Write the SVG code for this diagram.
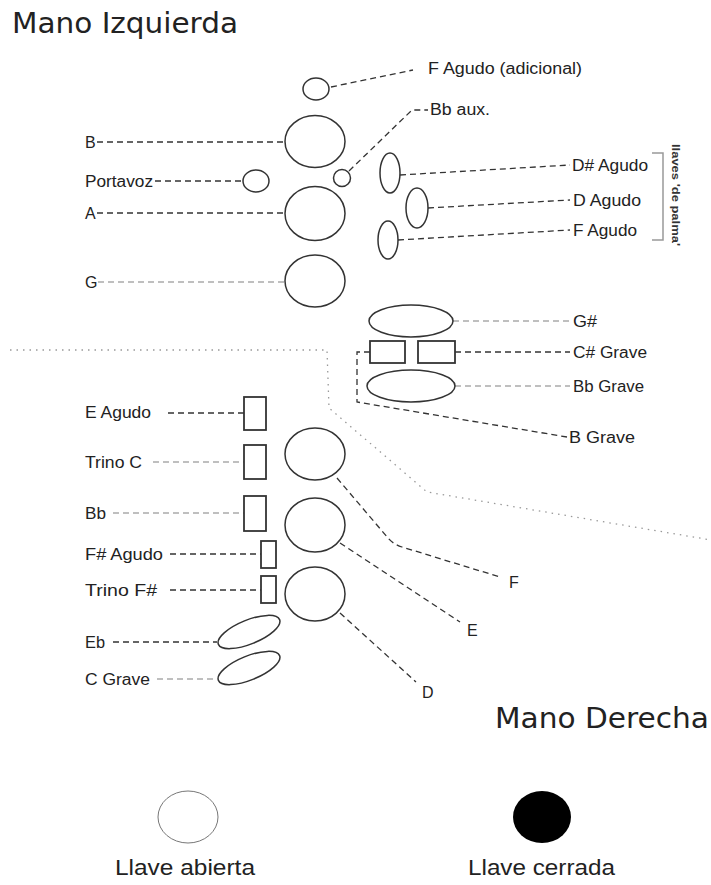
<svg xmlns="http://www.w3.org/2000/svg" width="711" height="885" viewBox="0 0 711 885">
<style>
.title{font-family:"DejaVu Sans",Verdana,sans-serif;font-size:28px;fill:#222}
.lbl{font-family:"Liberation Sans",Arial,sans-serif;font-size:16px;fill:#222}
.leg{font-family:"Liberation Sans",Arial,sans-serif;font-size:22px;fill:#222}
.key{fill:#fff;stroke:#333;stroke-width:1.5}
.rk{fill:#fff;stroke:#333;stroke-width:1.8}
.dl{fill:none;stroke:#333;stroke-width:1.3;stroke-dasharray:6 4}
.gl{fill:none;stroke:#aaa;stroke-width:1.5;stroke-dasharray:6 4}
.dot{fill:none;stroke:#999;stroke-width:1.3;stroke-dasharray:1.5 5}
</style>
<rect width="711" height="885" fill="#fff"/>
<text class="title" x="12" y="33" textLength="226" lengthAdjust="spacingAndGlyphs">Mano Izquierda</text>
<text class="title" x="495" y="728" textLength="214" lengthAdjust="spacingAndGlyphs">Mano Derecha</text>

<g id="connectors">
<path class="dot" d="M10,350 L327,350 L329,408 L427,492 L711,540"/>
<path class="dl" d="M331,87 L413,70"/>
<path class="dl" d="M97,142 L285,142"/>
<path class="dl" d="M349,171 L412,110 L428,110"/>
<path class="dl" d="M155,181 L243,181"/>
<path class="dl" d="M97,213 L285,213"/>
<path class="gl" d="M98,282 L285,282"/>
<path class="dl" d="M400,175 L570,165"/>
<path class="dl" d="M428,208 L570,200"/>
<path class="dl" d="M398,240 L570,230"/>
<path class="gl" d="M453,321 L570,321"/>
<path class="dl" d="M455,352 L570,352"/>
<path class="gl" d="M455,386 L570,386"/>
<path class="dl" d="M370,352 L357,352 L357,402 L567,437"/>
<path class="dl" d="M168,413 L244,413"/>
<path class="gl" d="M153,462 L244,462"/>
<path class="gl" d="M113,513 L244,513"/>
<path class="dl" d="M170,554 L261,554"/>
<path class="dl" d="M170,590 L261,590"/>
<path class="dl" d="M337,478 L388,538 Q393,544 402,547 L500,577"/>
<path class="dl" d="M340,543 L460,622"/>
<path class="dl" d="M340,613 L416,682"/>
<path class="dl" d="M113,642 L217,642"/>
<path class="gl" d="M157,679 L217,679"/>
<path fill="none" stroke="#999" stroke-width="1.5" d="M652,153 L663,153 L663,240 L652,240"/>
</g>

<g id="f-agudo-adicional"><ellipse class="key" cx="316" cy="89" rx="13" ry="11"/><text class="lbl" x="428" y="74" textLength="154" lengthAdjust="spacingAndGlyphs">F Agudo (adicional)</text></g>
<g id="b"><ellipse class="key" cx="315" cy="141.5" rx="30" ry="26"/><text class="lbl" x="85" y="148">B</text></g>
<g id="bb-aux"><circle class="key" cx="342" cy="178" r="8.5"/><text class="lbl" x="430" y="115" textLength="60" lengthAdjust="spacingAndGlyphs">Bb aux.</text></g>
<g id="portavoz"><ellipse class="key" cx="256" cy="181" rx="13" ry="11"/><text class="lbl" x="85" y="187" textLength="68" lengthAdjust="spacingAndGlyphs">Portavoz</text></g>
<g id="a"><ellipse class="key" cx="315" cy="213.5" rx="30" ry="27"/><text class="lbl" x="85" y="219">A</text></g>
<g id="g"><ellipse class="key" cx="315" cy="281" rx="30" ry="26"/><text class="lbl" x="85" y="288">G</text></g>
<g id="ds-agudo"><ellipse class="key" cx="390" cy="173" rx="10" ry="20"/><text class="lbl" x="572" y="171" textLength="76" lengthAdjust="spacingAndGlyphs">D# Agudo</text></g>
<g id="d-agudo"><ellipse class="key" cx="417" cy="208" rx="11" ry="20"/><text class="lbl" x="573" y="206" textLength="68" lengthAdjust="spacingAndGlyphs">D Agudo</text></g>
<g id="f-agudo"><ellipse class="key" cx="388" cy="240" rx="10" ry="19"/><text class="lbl" x="573" y="236" textLength="64" lengthAdjust="spacingAndGlyphs">F Agudo</text></g>
<g id="palma"><text x="672" y="144" transform="rotate(90 672 144)" font-family="Liberation Sans, Arial, sans-serif" font-size="10" font-weight="bold" fill="#333" textLength="102" lengthAdjust="spacingAndGlyphs">llaves 'de palma'</text></g>
<g id="gs"><ellipse class="key" cx="411" cy="321" rx="42" ry="16"/><text class="lbl" x="573" y="327" textLength="24" lengthAdjust="spacingAndGlyphs">G#</text></g>
<g id="cs-grave"><rect class="rk" x="370" y="341" width="35" height="22"/><rect class="rk" x="418" y="341" width="37" height="22"/><text class="lbl" x="573" y="358" textLength="74" lengthAdjust="spacingAndGlyphs">C# Grave</text></g>
<g id="bb-grave"><ellipse class="key" cx="411" cy="386" rx="44" ry="16"/><text class="lbl" x="573" y="392" textLength="71" lengthAdjust="spacingAndGlyphs">Bb Grave</text></g>
<g id="b-grave"><text class="lbl" x="569" y="443" textLength="66" lengthAdjust="spacingAndGlyphs">B Grave</text></g>
<g id="e-agudo"><rect class="rk" x="244" y="397" width="22" height="33"/><text class="lbl" x="85" y="418" textLength="66" lengthAdjust="spacingAndGlyphs">E Agudo</text></g>
<g id="trino-c"><rect class="rk" x="244" y="445" width="22" height="34"/><text class="lbl" x="85" y="468" textLength="57" lengthAdjust="spacingAndGlyphs">Trino C</text></g>
<g id="bb"><rect class="rk" x="244" y="496" width="22" height="35"/><text class="lbl" x="85" y="519" textLength="21" lengthAdjust="spacingAndGlyphs">Bb</text></g>
<g id="fs-agudo"><rect class="rk" x="261" y="541" width="15" height="27"/><text class="lbl" x="85" y="560" textLength="78" lengthAdjust="spacingAndGlyphs">F# Agudo</text></g>
<g id="trino-fs"><rect class="rk" x="261" y="576" width="15" height="27"/><text class="lbl" x="85" y="596" textLength="72" lengthAdjust="spacingAndGlyphs">Trino F#</text></g>
<g id="f"><ellipse class="key" cx="315" cy="454" rx="30" ry="26"/><text class="lbl" x="509" y="588">F</text></g>
<g id="e"><ellipse class="key" cx="315" cy="525" rx="30" ry="27"/><text class="lbl" x="467" y="636">E</text></g>
<g id="d"><ellipse class="key" cx="315" cy="594" rx="30" ry="27"/><text class="lbl" x="422" y="698">D</text></g>
<g id="eb"><ellipse class="key" cx="249" cy="632" rx="33" ry="12" transform="rotate(-22 249 632)"/><text class="lbl" x="85" y="648" textLength="20" lengthAdjust="spacingAndGlyphs">Eb</text></g>
<g id="c-grave"><ellipse class="key" cx="249" cy="668" rx="33" ry="12" transform="rotate(-22 249 668)"/><text class="lbl" x="85" y="685" textLength="65" lengthAdjust="spacingAndGlyphs">C Grave</text></g>

<g id="legend-abierta"><ellipse cx="188" cy="817" rx="30" ry="26" fill="#fff" stroke="#777" stroke-width="1"/><text class="leg" x="115" y="875" textLength="140" lengthAdjust="spacingAndGlyphs">Llave abierta</text></g>
<g id="legend-cerrada"><ellipse cx="542" cy="817" rx="29" ry="26" fill="#000"/><text class="leg" x="468" y="875" textLength="147" lengthAdjust="spacingAndGlyphs">Llave cerrada</text></g>
</svg>
